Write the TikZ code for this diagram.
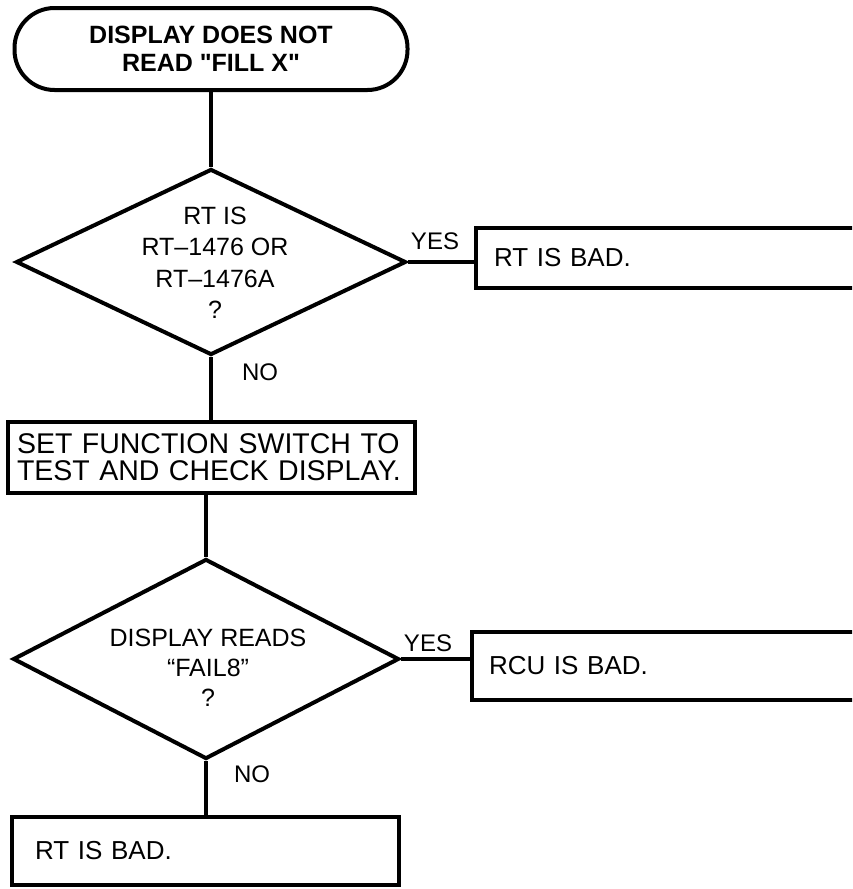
\documentclass[tikz,border=0pt]{standalone}
\usepackage{fontspec}
\setmainfont{Liberation Sans}
\newfontfamily\plainsans{Liberation Sans}
\usetikzlibrary{shapes.geometric}
\newcommand\myfs[2]{\fontsize{#1}{#2}\selectfont}
\tikzset{
  term/.style={draw, line width=4pt, rounded corners=40pt, align=center, inner sep=0pt,
               font=\plainsans\bfseries\myfs{25}{28}},
  dia/.style={draw, diamond, line width=4pt, inner sep=0pt},
  dtext/.style={align=center, inner sep=0pt, font=\myfs{25}{31.5}},
  box/.style={draw, line width=4pt, align=left, inner ysep=0pt},
  lbl/.style={inner sep=0pt, font=\myfs{24}{26}},
  conn/.style={line width=3.2pt}
}
\begin{document}
\begin{tikzpicture}[x=1pt,y=-1pt]
\useasboundingbox (0,0) rectangle (852,889);
\clip (0,0) rectangle (852,889);
% start terminal
\node[term, minimum width=393pt, minimum height=82pt] (start) at (211,49) {DISPLAY DOES NOT\\READ "FILL X"};
% first decision
\node[dia, minimum width=390pt, minimum height=186pt] (d1) at (211,262) {};
\node[dtext] (d1t) at (215,263) {RT IS\\RT–1476 OR\\RT–1476A\\?};
\node[box, anchor=west, minimum height=60pt, text width=420pt, inner xsep=18pt, font=\myfs{26}{28}] (r1) at (474,258) {RT IS BAD.};
\node[lbl] (yes1) at (435,241) {YES};
\node[lbl] (no1) at (260,372) {NO};
% set function box
\node[box, anchor=west, minimum height=71pt, text width=389pt, inner xsep=9pt, font=\myfs{28.5}{27}] (b2) at (6,457.5) {SET FUNCTION SWITCH TO\\TEST AND CHECK DISPLAY.};
% second decision
\node[dia, minimum width=386pt, minimum height=200pt] (d2) at (206,659) {};
\node[dtext, font=\myfs{25}{30}] (d2t) at (208,668) {DISPLAY READS\\“FAIL8”\\?};
\node[box, anchor=west, minimum height=68pt, text width=420pt, inner xsep=17pt, font=\myfs{26}{28}] (r2) at (470,666) {RCU IS BAD.};
\node[lbl] (yes2) at (428,643) {YES};
\node[lbl] (no2) at (252,774) {NO};
% final box
\node[box, anchor=west, minimum height=68pt, text width=341pt, inner xsep=23pt, font=\myfs{26}{28}] (b3) at (10,851) {RT IS BAD.};
% connectors
\draw[conn] (start.south) -- (d1.north);
\draw[conn] (d1.east) -- (d1.east -| r1.west);
\draw[conn] (d1.south) -- (d1.south |- b2.north);
\draw[conn] (d2.north |- b2.south) -- (d2.north);
\draw[conn] (d2.east) -- (d2.east -| r2.west);
\draw[conn] (d2.south) -- (d2.south |- b3.north);
\end{tikzpicture}
\end{document}
